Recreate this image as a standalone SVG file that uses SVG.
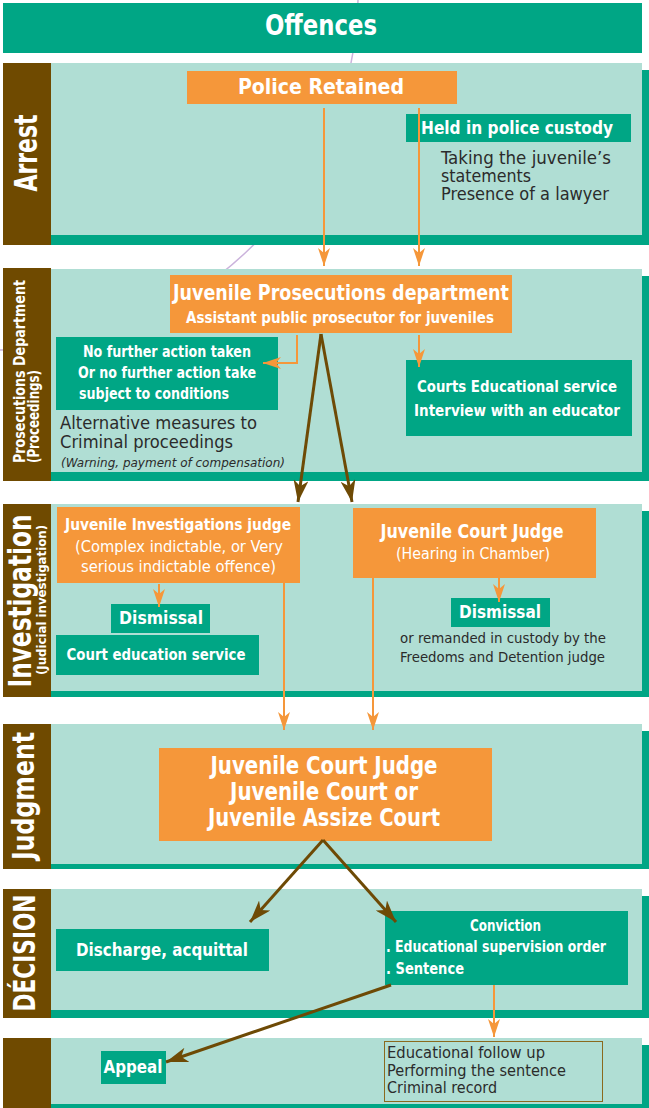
<svg xmlns="http://www.w3.org/2000/svg" width="649" height="1108" viewBox="0 0 649 1108">
<defs>
<style>
.strip{fill:#00A685}
.light{fill:#B0DED4}
.side{fill:#6F4A00}
.gn{fill:#00A685}
.on{fill:#F5973A}
.t{font-family:"Liberation Sans Narrow","DejaVu Sans Condensed","Liberation Sans",sans-serif}
.w{fill:#FFFFFF;font-weight:bold}
.wr{fill:#FFFFFF;font-weight:normal}
.d{fill:#2B2B2B;font-weight:normal}
.oc{stroke:#F5973A;stroke-width:2;fill:none}
.bc{stroke:#6E4A05;stroke-width:3;fill:none}
</style>
<marker id="ao" markerUnits="userSpaceOnUse" markerWidth="18" markerHeight="12" refX="18" refY="6" orient="auto">
<path d="M0,0 L18,6 L0,12 L5,6 z" fill="#F5973A"/>
</marker>
<marker id="ab" markerUnits="userSpaceOnUse" markerWidth="22" markerHeight="15" refX="22" refY="7.5" orient="auto">
<path d="M0,0 L22,7.5 L0,15 L6,7.5 z" fill="#6E4A05"/>
</marker>
</defs>
<rect width="649" height="1108" fill="#FFFFFF"/>
<path d="M358,0 A358,358 0 0 1 0,350" fill="none" stroke="#CBB3DC" stroke-width="1.5"/>

<g id="offences">
<rect x="3" y="3" width="639" height="50" class="strip"/>
<text class="t w" x="321" y="35" font-size="28" text-anchor="middle" textLength="112" lengthAdjust="spacingAndGlyphs">Offences</text>
</g>

<g id="panel-arrest">
<rect x="51" y="70" width="598" height="175" class="strip"/>
<rect x="51" y="63" width="591" height="172" class="light"/>
<rect x="3" y="63" width="48" height="182" class="side"/>
<text class="t w" transform="translate(37,153) rotate(-90)" font-size="32" text-anchor="middle" textLength="77" lengthAdjust="spacingAndGlyphs">Arrest</text>
</g>
<g id="panel-prosecutions">
<rect x="51" y="276" width="598" height="205" class="strip"/>
<rect x="51" y="269" width="591" height="203" class="light"/>
<rect x="3" y="268" width="48" height="213" class="side"/>
<text class="t w" transform="translate(25,463) rotate(-90)" font-size="16" textLength="183" lengthAdjust="spacingAndGlyphs">Prosecutions Department</text>
<text class="t w" transform="translate(39,463) rotate(-90)" font-size="15" textLength="93" lengthAdjust="spacingAndGlyphs">(Proceedings)</text>
</g>
<g id="panel-investigation">
<rect x="51" y="511" width="598" height="186" class="strip"/>
<rect x="51" y="504" width="591" height="187" class="light"/>
<rect x="3" y="504" width="48" height="193" class="side"/>
<text class="t w" transform="translate(31,601) rotate(-90)" font-size="32" text-anchor="middle" textLength="173" lengthAdjust="spacingAndGlyphs">Investigation</text>
<text class="t w" transform="translate(46,600) rotate(-90)" font-size="13" text-anchor="middle" textLength="150" lengthAdjust="spacingAndGlyphs">(Judicial investigation)</text>
</g>
<g id="panel-judgment">
<rect x="51" y="731" width="598" height="138" class="strip"/>
<rect x="51" y="724" width="591" height="140" class="light"/>
<rect x="3" y="724" width="48" height="145" class="side"/>
<text class="t w" transform="translate(34,796) rotate(-90)" font-size="30" text-anchor="middle" textLength="128" lengthAdjust="spacingAndGlyphs">Judgment</text>
</g>
<g id="panel-decision">
<rect x="51" y="896" width="598" height="122" class="strip"/>
<rect x="51" y="889" width="591" height="121" class="light"/>
<rect x="3" y="889" width="48" height="129" class="side"/>
<text class="t w" transform="translate(35,953) rotate(-90)" font-size="30" text-anchor="middle" textLength="117" lengthAdjust="spacingAndGlyphs">DÉCISION</text>
</g>
<g id="panel-final">
<rect x="51" y="1045" width="598" height="63" class="strip"/>
<rect x="51" y="1038" width="591" height="66" class="light"/>
<rect x="3" y="1038" width="48" height="70" class="side"/>
</g>

<g id="police-retained">
<rect x="187" y="71" width="270" height="33" class="on"/>
<text class="t w" x="321" y="94" font-size="22" text-anchor="middle" textLength="166" lengthAdjust="spacingAndGlyphs">Police Retained</text>
</g>
<g id="held-custody">
<rect x="406" y="114" width="225" height="28" class="gn"/>
<text class="t w" x="517" y="134" font-size="17" text-anchor="middle" textLength="192" lengthAdjust="spacingAndGlyphs">Held in police custody</text>
</g>
<g id="custody-notes">
<text class="t d" x="441" y="164" font-size="17" textLength="170" lengthAdjust="spacingAndGlyphs">Taking the juvenile’s</text>
<text class="t d" x="441" y="182" font-size="17" textLength="90" lengthAdjust="spacingAndGlyphs">statements</text>
<text class="t d" x="441" y="200" font-size="17" textLength="168" lengthAdjust="spacingAndGlyphs">Presence of a lawyer</text>
</g>

<g id="prosecutions-dept">
<rect x="170" y="275" width="342" height="58" class="on"/>
<text class="t w" x="341" y="300" font-size="21" text-anchor="middle" textLength="336" lengthAdjust="spacingAndGlyphs">Juvenile Prosecutions department</text>
<text class="t w" x="340" y="323" font-size="15" text-anchor="middle" textLength="308" lengthAdjust="spacingAndGlyphs">Assistant public prosecutor for juveniles</text>
</g>
<g id="no-further-action">
<rect x="56" y="337" width="222" height="73" class="gn"/>
<text class="t w" x="83" y="357" font-size="15" textLength="168" lengthAdjust="spacingAndGlyphs">No further action taken</text>
<text class="t w" x="78" y="378" font-size="15" textLength="178" lengthAdjust="spacingAndGlyphs">Or no further action take</text>
<text class="t w" x="79" y="399" font-size="15" textLength="150" lengthAdjust="spacingAndGlyphs">subject to conditions</text>
</g>
<g id="alternative-measures">
<text class="t d" x="60" y="429" font-size="18" textLength="197" lengthAdjust="spacingAndGlyphs">Alternative measures to</text>
<text class="t d" x="60" y="448" font-size="18" textLength="173" lengthAdjust="spacingAndGlyphs">Criminal proceedings</text>
<text class="t d" x="61" y="467" font-size="12" font-style="italic" textLength="224" lengthAdjust="spacingAndGlyphs">(Warning, payment of compensation)</text>
</g>
<g id="courts-educational">
<rect x="406" y="360" width="226" height="76" class="gn"/>
<text class="t w" x="517" y="392" font-size="16" text-anchor="middle" textLength="200" lengthAdjust="spacingAndGlyphs">Courts Educational service</text>
<text class="t w" x="517" y="416" font-size="16" text-anchor="middle" textLength="206" lengthAdjust="spacingAndGlyphs">Interview with an educator</text>
</g>

<g id="investigations-judge">
<rect x="57" y="507" width="243" height="76" class="on"/>
<text class="t w" x="178" y="530" font-size="16" text-anchor="middle" textLength="226" lengthAdjust="spacingAndGlyphs">Juvenile Investigations judge</text>
<text class="t wr" x="179" y="552" font-size="16" text-anchor="middle" textLength="208" lengthAdjust="spacingAndGlyphs">(Complex indictable, or Very</text>
<text class="t wr" x="178.5" y="572" font-size="16" text-anchor="middle" textLength="195" lengthAdjust="spacingAndGlyphs">serious indictable offence)</text>
</g>
<g id="dismissal-left">
<rect x="111" y="604" width="99" height="29" class="gn"/>
<text class="t w" x="161" y="624" font-size="18" text-anchor="middle" textLength="84" lengthAdjust="spacingAndGlyphs">Dismissal</text>
</g>
<g id="court-education">
<rect x="56" y="635" width="203" height="40" class="gn"/>
<text class="t w" x="156" y="660" font-size="15" text-anchor="middle" textLength="179" lengthAdjust="spacingAndGlyphs">Court education service</text>
</g>
<g id="court-judge-chamber">
<rect x="353" y="508" width="243" height="70" class="on"/>
<text class="t w" x="472" y="538" font-size="19" text-anchor="middle" textLength="183" lengthAdjust="spacingAndGlyphs">Juvenile Court Judge</text>
<text class="t wr" x="473" y="559" font-size="15" text-anchor="middle" textLength="154" lengthAdjust="spacingAndGlyphs">(Hearing in Chamber)</text>
</g>
<g id="dismissal-right">
<rect x="451" y="598" width="99" height="29" class="gn"/>
<text class="t w" x="500" y="618" font-size="18" text-anchor="middle" textLength="82" lengthAdjust="spacingAndGlyphs">Dismissal</text>
</g>
<g id="remanded-note">
<text class="t d" x="503" y="643" font-size="14" text-anchor="middle" textLength="206" lengthAdjust="spacingAndGlyphs">or remanded in custody by the</text>
<text class="t d" x="502.5" y="662" font-size="14" text-anchor="middle" textLength="205" lengthAdjust="spacingAndGlyphs">Freedoms and Detention judge</text>
</g>

<g id="judgment-court">
<rect x="159" y="748" width="333" height="93" class="on"/>
<text class="t w" x="324" y="774" font-size="24" text-anchor="middle" textLength="227" lengthAdjust="spacingAndGlyphs">Juvenile Court Judge</text>
<text class="t w" x="324" y="800" font-size="24" text-anchor="middle" textLength="188" lengthAdjust="spacingAndGlyphs">Juvenile Court or</text>
<text class="t w" x="324" y="826" font-size="24" text-anchor="middle" textLength="232" lengthAdjust="spacingAndGlyphs">Juvenile Assize Court</text>
</g>

<g id="discharge">
<rect x="56" y="929" width="213" height="42" class="gn"/>
<text class="t w" x="162" y="956" font-size="18" text-anchor="middle" textLength="172" lengthAdjust="spacingAndGlyphs">Discharge, acquittal</text>
</g>
<g id="conviction">
<rect x="385" y="911" width="243" height="74" class="gn"/>
<text class="t w" x="505.5" y="931" font-size="15" text-anchor="middle" textLength="71" lengthAdjust="spacingAndGlyphs">Conviction</text>
<text class="t w" x="386" y="952" font-size="15" textLength="220" lengthAdjust="spacingAndGlyphs">. Educational supervision order</text>
<text class="t w" x="386" y="974" font-size="15" textLength="78" lengthAdjust="spacingAndGlyphs">. Sentence</text>
</g>

<g id="appeal">
<rect x="101" y="1051" width="65" height="33" class="gn"/>
<text class="t w" x="133" y="1073" font-size="18" text-anchor="middle" textLength="59" lengthAdjust="spacingAndGlyphs">Appeal</text>
</g>
<g id="follow-up">
<rect x="384.5" y="1041.5" width="218" height="60" fill="#B0DED4" stroke="#8A6A1E" stroke-width="1"/>
<text class="t d" x="387" y="1058" font-size="16" textLength="158" lengthAdjust="spacingAndGlyphs">Educational follow up</text>
<text class="t d" x="387" y="1076" font-size="16" textLength="179" lengthAdjust="spacingAndGlyphs">Performing the sentence</text>
<text class="t d" x="387" y="1093" font-size="16" textLength="110" lengthAdjust="spacingAndGlyphs">Criminal record</text>
</g>

<g id="connectors">
<line x1="324" y1="108" x2="324" y2="266" class="oc" marker-end="url(#ao)"/>
<line x1="419" y1="108" x2="419" y2="266" class="oc" marker-end="url(#ao)"/>
<polyline points="297,335 297,363 263,363" class="oc" marker-end="url(#ao)"/>
<line x1="419" y1="335" x2="419" y2="367" class="oc" marker-end="url(#ao)"/>
<line x1="321" y1="334" x2="298" y2="502" class="bc" marker-end="url(#ab)"/>
<line x1="321" y1="334" x2="352" y2="502" class="bc" marker-end="url(#ab)"/>
<line x1="159" y1="584" x2="159" y2="607" class="oc" marker-end="url(#ao)"/>
<line x1="499" y1="578" x2="499" y2="602" class="oc" marker-end="url(#ao)"/>
<line x1="284" y1="583" x2="284" y2="730" class="oc" marker-end="url(#ao)"/>
<line x1="373" y1="578" x2="373" y2="730" class="oc" marker-end="url(#ao)"/>
<line x1="323" y1="840" x2="250" y2="922" class="bc" marker-end="url(#ab)"/>
<line x1="323" y1="840" x2="396" y2="922" class="bc" marker-end="url(#ab)"/>
<line x1="391" y1="985" x2="166" y2="1062" class="bc" marker-end="url(#ab)"/>
<line x1="494" y1="985" x2="494" y2="1037" class="oc" marker-end="url(#ao)"/>
</g>
</svg>
